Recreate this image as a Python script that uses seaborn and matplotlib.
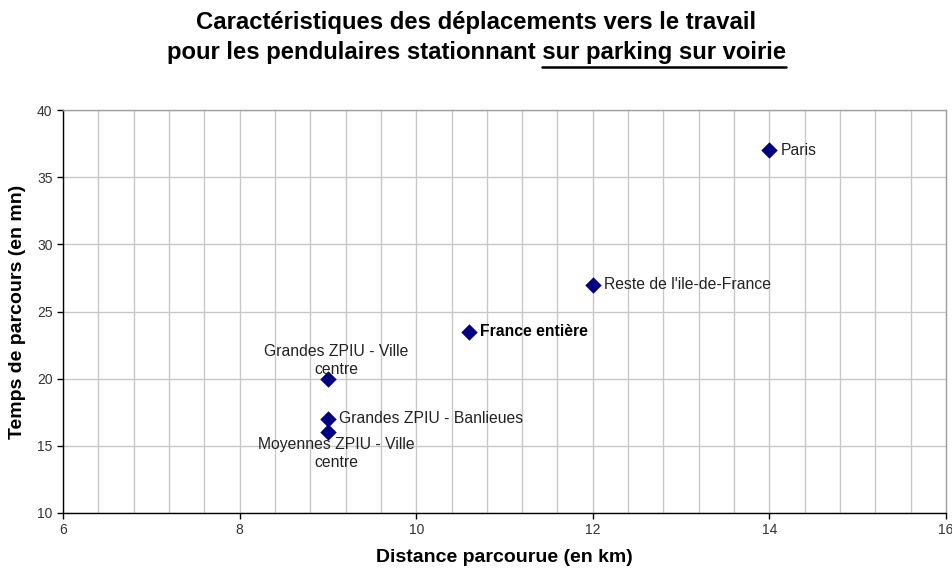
import numpy as np
import pandas as pd
import seaborn as sns
import matplotlib.pyplot as plt
from matplotlib.ticker import MultipleLocator

# values
zones = [
    "Paris",
    "Reste de l'ile-de-France",
    "France entière",
    "Grandes ZPIU - Ville\ncentre",
    "Grandes ZPIU - Banlieues",
    "Moyennes ZPIU - Ville\ncentre",
]
distance_km = [14.0, 12.0, 10.6, 9.0, 9.0, 9.0]
temps_mn = [37.0, 27.0, 23.5, 20.0, 17.0, 16.0]

df = pd.DataFrame({"zone": zones, "distance": distance_km, "temps": temps_mn})

sns.set_style("white")
plt.rcParams["font.family"] = ["Liberation Sans", "DejaVu Sans"]
plt.rcParams["text.color"] = "black"

fig = plt.figure(figsize=(9.53, 5.71), dpi=100)
ax = fig.add_axes([63 / 953, 1 - 513 / 571, (946 - 63) / 953, (513 - 110) / 571])

sns.scatterplot(data=df, x="distance", y="temps", marker="D", color="#000080",
                s=70, edgecolor="#000080", linewidth=0, ax=ax, zorder=3)

ax.set_xlim(6, 16)
ax.set_ylim(10, 40)
ax.xaxis.set_major_locator(MultipleLocator(2))
ax.xaxis.set_minor_locator(MultipleLocator(0.4))
ax.yaxis.set_major_locator(MultipleLocator(5))
ax.grid(True, which="both", axis="x", color="#c8c8c8", linewidth=1)
ax.grid(True, which="major", axis="y", color="#c8c8c8", linewidth=1)
ax.set_axisbelow(True)
for side in ["top", "right"]:
    ax.spines[side].set_color("#a0a0a0")
    ax.spines[side].set_linewidth(1)
for side in ["left", "bottom"]:
    ax.spines[side].set_color("black")
    ax.spines[side].set_linewidth(1)
ax.tick_params(axis="both", which="major", direction="out", length=4, width=1,
               color="black", labelsize=10, labelcolor="#333333", bottom=True, left=True)
ax.tick_params(axis="x", which="minor", length=0)

ax.set_xlabel("Distance parcourue (en km)", fontsize=14, fontweight="bold",
              labelpad=8, color="black")
ax.set_ylabel("Temps de parcours (en mn)", fontsize=14, fontweight="bold",
              labelpad=8, color="black")

# point labels
for zone, x, y in zip(zones, distance_km, temps_mn):
    if zone.startswith("Grandes ZPIU - Ville"):
        ax.annotate(zone, (x, y), xytext=(6, 1), textcoords="offset points",
                    ha="center", va="bottom", fontsize=11.3, color="#222222",
                    linespacing=1.3)
    elif zone.startswith("Moyennes"):
        ax.annotate(zone, (x, y), xytext=(6, -3), textcoords="offset points",
                    ha="center", va="top", fontsize=11.3, color="#222222",
                    linespacing=1.3)
    elif zone == "France entière":
        ax.annotate(zone, (x, y), xytext=(8, 0), textcoords="offset points",
                    ha="left", va="center", fontsize=11.3, fontweight="bold",
                    color="black")
    else:
        ax.annotate(zone, (x, y), xytext=(8, 0), textcoords="offset points",
                    ha="left", va="center", fontsize=11.3, color="#222222")

# title, with the last part underlined
fig.text(0.5, 1 - 22 / 571, "Caractéristiques des déplacements vers le travail",
         ha="center", va="center", fontsize=17.2, fontweight="bold", color="black")
line2 = fig.text(0.5, 1 - 53 / 571, "pour les pendulaires stationnant sur parking sur voirie",
                 ha="center", va="center", fontsize=17.2, fontweight="bold", color="black")
part = fig.text(0, 0, "sur parking sur voirie", fontsize=17.2, fontweight="bold", alpha=0)
fig.canvas.draw()
r = fig.canvas.get_renderer()
bb = line2.get_window_extent(r)
pw = part.get_window_extent(r).width
y_ul = bb.y0 - 2
fig.add_artist(plt.Line2D([(bb.x1 - pw) / 953, bb.x1 / 953], [y_ul / 571, y_ul / 571],
                          color="black", linewidth=1.8, transform=fig.transFigure))

fig.savefig("out.png", dpi=100)
